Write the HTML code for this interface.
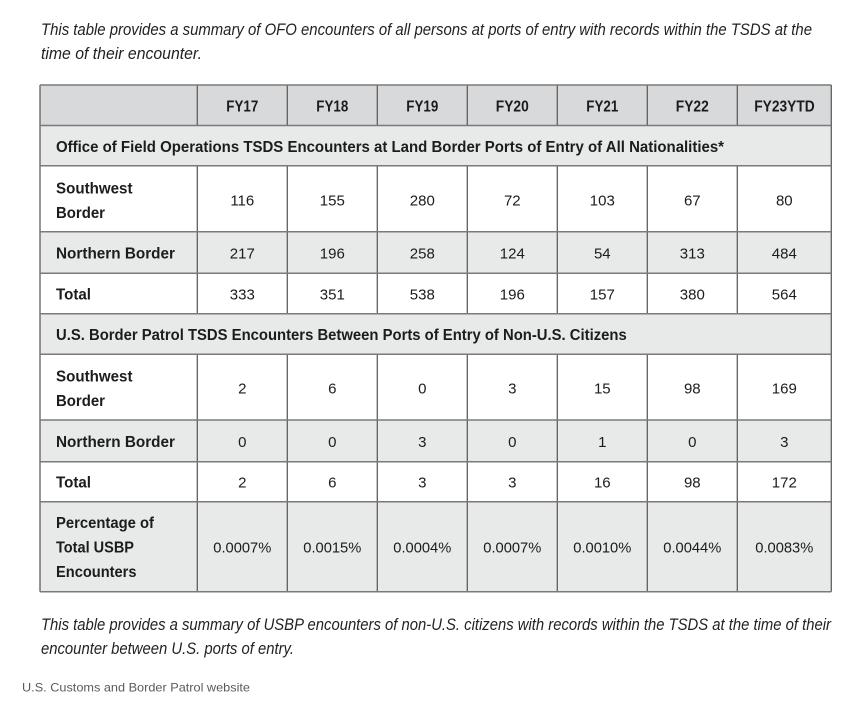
<!DOCTYPE html>
<html>
<head>
<meta charset="utf-8">
<style>
html,body{margin:0;padding:0;background:#fff;}
svg{display:block;}
text{font-family:"Liberation Sans",sans-serif;fill:#1c1c1c;}
.cap{font-style:italic;font-size:16.5px;fill:#222;}
.b{font-weight:bold;font-size:15.5px;}
.n{font-size:15px;}
.src{font-size:12px;fill:#5a5a5a;}
</style>
</head>
<body>
<svg width="867" height="720" viewBox="0 0 867 720" xmlns="http://www.w3.org/2000/svg">
<rect width="867" height="720" fill="#fff"/>

<!-- top caption -->
<text class="cap" x="41" y="35" textLength="771" lengthAdjust="spacingAndGlyphs">This table provides a summary of OFO encounters of all persons at ports of entry with records within the TSDS at the</text>
<text class="cap" x="41" y="59" textLength="161" lengthAdjust="spacingAndGlyphs">time of their encounter.</text>

<!-- row backgrounds -->
<rect x="40" y="85" width="791.3" height="40.5" fill="#d8d9da"/>
<rect x="40" y="125.5" width="791.3" height="40.2" fill="#e8e9e9"/>
<rect x="40" y="231.7" width="791.3" height="41.6" fill="#e8e9e9"/>
<rect x="40" y="313.7" width="791.3" height="40.6" fill="#e8e9e9"/>
<rect x="40" y="420" width="791.3" height="41.7" fill="#e8e9e9"/>
<rect x="40" y="501.7" width="791.3" height="90" fill="#e8e9e9"/>

<!-- vertical dividers -->
<g stroke="#5f5f5f" stroke-width="1.3">
  <line x1="197.3" y1="85" x2="197.3" y2="125.5"/><line x1="287.3" y1="85" x2="287.3" y2="125.5"/><line x1="377.3" y1="85" x2="377.3" y2="125.5"/><line x1="467.3" y1="85" x2="467.3" y2="125.5"/><line x1="557.3" y1="85" x2="557.3" y2="125.5"/><line x1="647.3" y1="85" x2="647.3" y2="125.5"/><line x1="737.3" y1="85" x2="737.3" y2="125.5"/>
  <line x1="197.3" y1="165.7" x2="197.3" y2="313.7"/><line x1="287.3" y1="165.7" x2="287.3" y2="313.7"/><line x1="377.3" y1="165.7" x2="377.3" y2="313.7"/><line x1="467.3" y1="165.7" x2="467.3" y2="313.7"/><line x1="557.3" y1="165.7" x2="557.3" y2="313.7"/><line x1="647.3" y1="165.7" x2="647.3" y2="313.7"/><line x1="737.3" y1="165.7" x2="737.3" y2="313.7"/>
  <line x1="197.3" y1="354.3" x2="197.3" y2="591.7"/><line x1="287.3" y1="354.3" x2="287.3" y2="591.7"/><line x1="377.3" y1="354.3" x2="377.3" y2="591.7"/><line x1="467.3" y1="354.3" x2="467.3" y2="591.7"/><line x1="557.3" y1="354.3" x2="557.3" y2="591.7"/><line x1="647.3" y1="354.3" x2="647.3" y2="591.7"/><line x1="737.3" y1="354.3" x2="737.3" y2="591.7"/>
  <line x1="40" y1="85" x2="40" y2="591.7"/><line x1="831.3" y1="85" x2="831.3" y2="591.7"/>
</g>
<!-- horizontal lines -->
<g stroke="#7a7a7a" stroke-width="1.5">
  <line x1="40" y1="85" x2="831.3" y2="85"/>
  <line x1="40" y1="125.5" x2="831.3" y2="125.5"/>
  <line x1="40" y1="165.7" x2="831.3" y2="165.7"/>
  <line x1="40" y1="231.7" x2="831.3" y2="231.7"/>
  <line x1="40" y1="273.3" x2="831.3" y2="273.3"/>
  <line x1="40" y1="313.7" x2="831.3" y2="313.7"/>
  <line x1="40" y1="354.3" x2="831.3" y2="354.3"/>
  <line x1="40" y1="420" x2="831.3" y2="420"/>
  <line x1="40" y1="461.7" x2="831.3" y2="461.7"/>
  <line x1="40" y1="501.7" x2="831.3" y2="501.7"/>
  <line x1="40" y1="591.7" x2="831.3" y2="591.7"/>
</g>

<!-- header -->
<g class="b" text-anchor="middle">
  <text class="b" x="242.3" y="111.5" textLength="32" lengthAdjust="spacingAndGlyphs">FY17</text>
  <text class="b" x="332.3" y="111.5" textLength="32" lengthAdjust="spacingAndGlyphs">FY18</text>
  <text class="b" x="422.3" y="111.5" textLength="32" lengthAdjust="spacingAndGlyphs">FY19</text>
  <text class="b" x="512.3" y="111.5" textLength="33" lengthAdjust="spacingAndGlyphs">FY20</text>
  <text class="b" x="602.3" y="111.5" textLength="32" lengthAdjust="spacingAndGlyphs">FY21</text>
  <text class="b" x="692.3" y="111.5" textLength="33" lengthAdjust="spacingAndGlyphs">FY22</text>
  <text class="b" x="784.5" y="111.5" textLength="60.5" lengthAdjust="spacingAndGlyphs">FY23YTD</text>
</g>

<!-- section 1 -->
<text class="b" x="56" y="152" textLength="668" lengthAdjust="spacingAndGlyphs">Office of Field Operations TSDS Encounters at Land Border Ports of Entry of All Nationalities*</text>

<!-- row labels -->
<text class="b" x="56" y="193.5" textLength="76.5" lengthAdjust="spacingAndGlyphs">Southwest</text>
<text class="b" x="56" y="218" textLength="49" lengthAdjust="spacingAndGlyphs">Border</text>
<text class="b" x="56" y="258.5" textLength="119" lengthAdjust="spacingAndGlyphs">Northern Border</text>
<text class="b" x="56" y="299.5" textLength="35" lengthAdjust="spacingAndGlyphs">Total</text>

<text class="b" x="56" y="340" textLength="570.7" lengthAdjust="spacingAndGlyphs">U.S. Border Patrol TSDS Encounters Between Ports of Entry of Non-U.S. Citizens</text>

<text class="b" x="56" y="381.5" textLength="76.5" lengthAdjust="spacingAndGlyphs">Southwest</text>
<text class="b" x="56" y="406" textLength="49" lengthAdjust="spacingAndGlyphs">Border</text>
<text class="b" x="56" y="447" textLength="119" lengthAdjust="spacingAndGlyphs">Northern Border</text>
<text class="b" x="56" y="487.5" textLength="35" lengthAdjust="spacingAndGlyphs">Total</text>
<text class="b" x="56" y="528" textLength="98" lengthAdjust="spacingAndGlyphs">Percentage of</text>
<text class="b" x="56" y="552.5" textLength="78" lengthAdjust="spacingAndGlyphs">Total USBP</text>
<text class="b" x="56" y="577" textLength="80.5" lengthAdjust="spacingAndGlyphs">Encounters</text>

<!-- numbers -->
<g text-anchor="middle">
  <text class="n" x="242.3" y="205.5">116</text><text class="n" x="332.3" y="205.5">155</text><text class="n" x="422.3" y="205.5">280</text><text class="n" x="512.3" y="205.5">72</text><text class="n" x="602.3" y="205.5">103</text><text class="n" x="692.3" y="205.5">67</text><text class="n" x="784.3" y="205.5">80</text>
  <text class="n" x="242.3" y="258.5">217</text><text class="n" x="332.3" y="258.5">196</text><text class="n" x="422.3" y="258.5">258</text><text class="n" x="512.3" y="258.5">124</text><text class="n" x="602.3" y="258.5">54</text><text class="n" x="692.3" y="258.5">313</text><text class="n" x="784.3" y="258.5">484</text>
  <text class="n" x="242.3" y="299.5">333</text><text class="n" x="332.3" y="299.5">351</text><text class="n" x="422.3" y="299.5">538</text><text class="n" x="512.3" y="299.5">196</text><text class="n" x="602.3" y="299.5">157</text><text class="n" x="692.3" y="299.5">380</text><text class="n" x="784.3" y="299.5">564</text>
  <text class="n" x="242.3" y="393.5">2</text><text class="n" x="332.3" y="393.5">6</text><text class="n" x="422.3" y="393.5">0</text><text class="n" x="512.3" y="393.5">3</text><text class="n" x="602.3" y="393.5">15</text><text class="n" x="692.3" y="393.5">98</text><text class="n" x="784.3" y="393.5">169</text>
  <text class="n" x="242.3" y="447">0</text><text class="n" x="332.3" y="447">0</text><text class="n" x="422.3" y="447">3</text><text class="n" x="512.3" y="447">0</text><text class="n" x="602.3" y="447">1</text><text class="n" x="692.3" y="447">0</text><text class="n" x="784.3" y="447">3</text>
  <text class="n" x="242.3" y="487.5">2</text><text class="n" x="332.3" y="487.5">6</text><text class="n" x="422.3" y="487.5">3</text><text class="n" x="512.3" y="487.5">3</text><text class="n" x="602.3" y="487.5">16</text><text class="n" x="692.3" y="487.5">98</text><text class="n" x="784.3" y="487.5">172</text>
  <text class="n" x="242.3" y="552.5" textLength="58" lengthAdjust="spacingAndGlyphs">0.0007%</text>
  <text class="n" x="332.3" y="552.5" textLength="58" lengthAdjust="spacingAndGlyphs">0.0015%</text>
  <text class="n" x="422.3" y="552.5" textLength="58" lengthAdjust="spacingAndGlyphs">0.0004%</text>
  <text class="n" x="512.3" y="552.5" textLength="58" lengthAdjust="spacingAndGlyphs">0.0007%</text>
  <text class="n" x="602.3" y="552.5" textLength="58" lengthAdjust="spacingAndGlyphs">0.0010%</text>
  <text class="n" x="692.3" y="552.5" textLength="58" lengthAdjust="spacingAndGlyphs">0.0044%</text>
  <text class="n" x="784.3" y="552.5" textLength="58" lengthAdjust="spacingAndGlyphs">0.0083%</text>
</g>

<!-- bottom caption -->
<text class="cap" x="41" y="630" textLength="790" lengthAdjust="spacingAndGlyphs">This table provides a summary of USBP encounters of non-U.S. citizens with records within the TSDS at the time of their</text>
<text class="cap" x="41" y="654" textLength="253" lengthAdjust="spacingAndGlyphs">encounter between U.S. ports of entry.</text>

<text class="src" x="22" y="691.5" textLength="228" lengthAdjust="spacingAndGlyphs">U.S. Customs and Border Patrol website</text>
</svg>
</body>
</html>
